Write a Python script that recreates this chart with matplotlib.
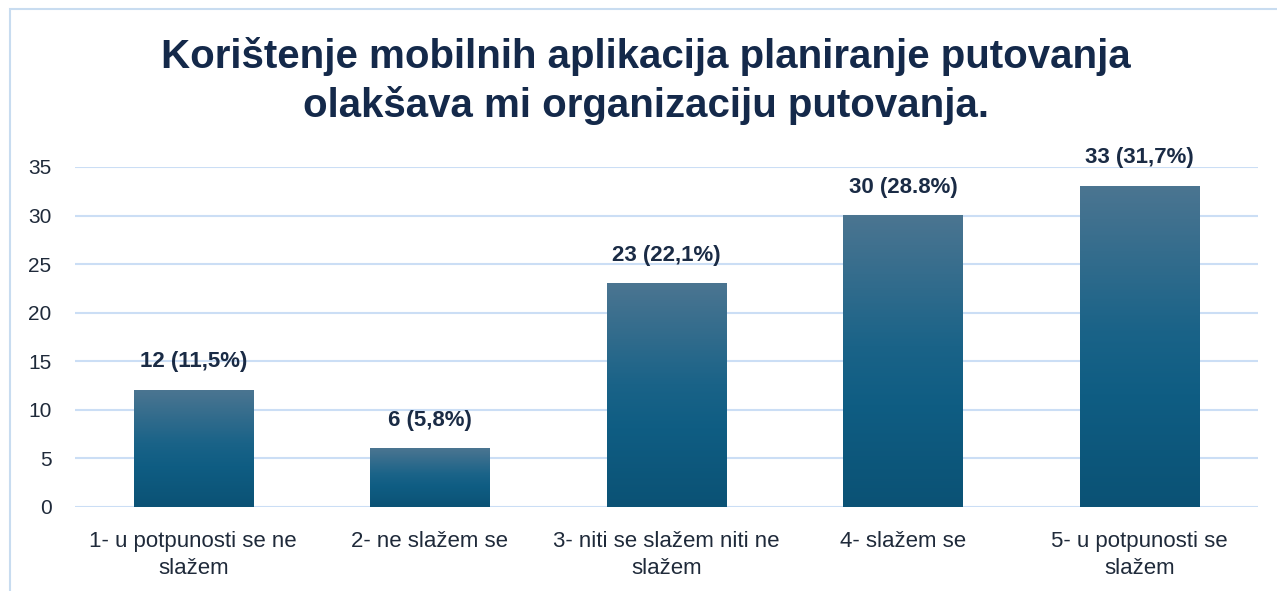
import numpy as np
import matplotlib
matplotlib.use("Agg")
import matplotlib.pyplot as plt
from matplotlib.colors import LinearSegmentedColormap
from matplotlib.patches import Rectangle

categories = ["1- u potpunosti se ne\nslažem", "2- ne slažem se",
              "3- niti se slažem niti ne\nslažem", "4- slažem se",
              "5- u potpunosti se\nslažem"]
values = [12, 6, 23, 30, 33]
labels = ["12 (11,5%)", "6 (5,8%)", "23 (22,1%)", "30 (28.8%)", "33 (31,7%)"]
yticks = [0, 5, 10, 15, 20, 25, 30, 35]
title = "Korištenje mobilnih aplikacija planiranje putovanja\nolakšava mi organizaciju putovanja."

plt.rcParams['font.family'] = ['Liberation Sans', 'DejaVu Sans']

fig = plt.figure(figsize=(12.77, 5.91), dpi=100)
fig.patch.set_facecolor("white")
W, H = 1277, 591
ax = fig.add_axes([75 / W, 84 / H, 1183 / W, 340 / H])

x = np.arange(len(categories))
bars = ax.bar(x, values, width=0.505, color="none", zorder=3)

cmap = LinearSegmentedColormap.from_list(
    "g", [(0.0, "#0b5275"), (0.35, "#0f5d83"), (0.55, "#1a6388"), (1.0, "#4b7591")])
grad = np.linspace(0, 1, 256).reshape(-1, 1)
for b in bars:
    x0, y0 = b.get_x(), b.get_y()
    w, h = b.get_width(), b.get_height()
    ax.imshow(grad, extent=[x0, x0 + w, y0, y0 + h], origin="lower",
              cmap=cmap, aspect="auto", zorder=3)

ax.set_xlim(-0.5, len(categories) - 0.5)
ax.set_ylim(0, 35)
ax.set_yticks(yticks)
ax.set_xticks(x)
ax.set_xticklabels(categories, fontsize=16, color="#1f2a3a", linespacing=1.4)
ax.tick_params(axis="y", labelsize=15, labelcolor="#1f2a3a", length=0, pad=17)
ax.tick_params(axis="x", length=0, pad=17)
ax.yaxis.grid(True, color="#cbdef5", linewidth=1.5, zorder=0)
ax.set_axisbelow(True)
for s in ax.spines.values():
    s.set_visible(False)

for b, lab in zip(bars, labels):
    ax.annotate(lab, (b.get_x() + b.get_width() / 2, b.get_height()),
                xytext=(0, 13), textcoords="offset points", ha="center",
                va="bottom", fontsize=16, fontweight="bold", color="#1a2b45")

fig.text(0.506, 1 - 81 / H, title, ha="center", va="center", fontsize=29,
         fontweight="bold", color="#14294a", linespacing=1.32)

fig.patches.append(Rectangle((10 / W, -0.1), 1.2, 1 - 9 / H + 0.1,
                             transform=fig.transFigure, fill=False,
                             edgecolor="#c8dcf0", linewidth=1.5))

fig.savefig("out.png", dpi=100)
